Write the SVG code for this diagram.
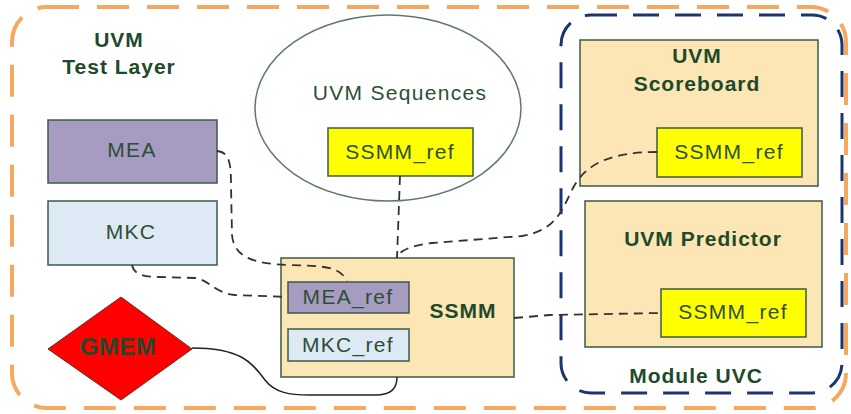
<svg xmlns="http://www.w3.org/2000/svg" width="851" height="414" viewBox="0 0 851 414">
<style>
.t{font-family:"Liberation Sans",Arial,sans-serif;font-size:21px;fill:#2E4E35;text-anchor:middle;letter-spacing:1.3px}
.b{font-family:"Liberation Sans",Arial,sans-serif;font-size:21px;font-weight:bold;fill:#1F4A2A;text-anchor:middle;letter-spacing:1px}
.box{stroke:#3C5A46;stroke-width:1.5}
.tan{fill:#FCE6B6}
.pur{fill:#A69BC1}
.blu{fill:#DEE9F6}
.yel{fill:#FFFF00}
.dash{fill:none;stroke:#333;stroke-width:1.8;stroke-dasharray:9 6}
</style>
<rect x="12" y="7" width="834" height="401" rx="35" fill="none" stroke="#F5A860" stroke-width="4" stroke-dasharray="32 18"/>
<rect x="561" y="15" width="281" height="378" rx="30" fill="none" stroke="#1A3570" stroke-width="3" stroke-dasharray="26 16"/>
<text class="b" x="119" y="47">UVM</text>
<text class="b" x="119" y="74">Test Layer</text>
<text id="module-uvc" class="b" x="696" y="383">Module UVC</text>

<g id="scoreboard">
<rect class="box tan" x="580" y="40" width="238" height="146"/>
<text class="b" x="697" y="63">UVM</text>
<text class="b" x="697" y="91">Scoreboard</text>
</g>
<g id="scoreboard-ref">
<rect class="box yel" x="657" y="128" width="145" height="49"/>
<text class="t" x="729" y="159">SSMM_ref</text>
</g>
<g id="predictor">
<rect class="box tan" x="585" y="201" width="237" height="146"/>
<text class="b" x="703" y="246">UVM Predictor</text>
</g>
<g id="predictor-ref">
<rect class="box yel" x="661" y="289" width="145" height="48"/>
<text class="t" x="733" y="319">SSMM_ref</text>
</g>
<g id="sequences">
<ellipse cx="388" cy="108" rx="133" ry="93" fill="none" stroke="#5F7A68" stroke-width="1.5"/>
<text class="t" x="400" y="100">UVM Sequences</text>
</g>
<g id="sequences-ref">
<rect class="box yel" x="328" y="128" width="145" height="48"/>
<text class="t" x="400" y="159">SSMM_ref</text>
</g>
<g id="mea">
<rect class="box pur" x="48" y="120" width="169" height="63"/>
<text class="t" x="132" y="157">MEA</text>
</g>
<g id="mkc">
<rect class="box blu" x="48" y="201" width="169" height="64"/>
<text class="t" x="131" y="239">MKC</text>
</g>
<g id="gmem">
<polygon points="121,297 192,349 121,400 48,349" fill="#FF0000" stroke="#6A2A1A" stroke-width="1"/>
<text class="b" x="118" y="355" style="font-size:24px;letter-spacing:0.5px">GMEM</text>
</g>
<g id="ssmm">
<rect class="box tan" x="281" y="258" width="233" height="119"/>
<text class="b" x="463" y="318">SSMM</text>
</g>
<g id="mea-ref">
<rect class="box pur" x="288" y="282" width="121" height="31"/>
<text class="t" x="348" y="304">MEA_ref</text>
</g>
<g id="mkc-ref">
<rect class="box blu" x="288" y="329" width="121" height="32"/>
<text class="t" x="348" y="352">MKC_ref</text>
</g>

<g id="connectors">
<path class="dash" d="M217,151 C230,152 231,165 231,185 L232,235 C234,258 255,264 290,265 C322,266 340,266 347,281"/>
<path class="dash" d="M132,265 C134,275 145,277 160,277 L195,278 C210,280 214,293 235,295 L288,297"/>
<path d="M192,348 C240,348 252,362 265,380 C275,393 290,395 310,395 L375,395 C392,395 397,388 397,377" fill="none" stroke="#222" stroke-width="1.5"/>
<path class="dash" d="M400,176 L397,258"/>
<path class="dash" d="M657,152 C612,152 586,163 573,188 C561,212 556,230 522,236 L432,243 C410,246 400,250 397,258"/>
<path class="dash" d="M514,318 L550,315 L661,313"/>
</g>
</svg>
